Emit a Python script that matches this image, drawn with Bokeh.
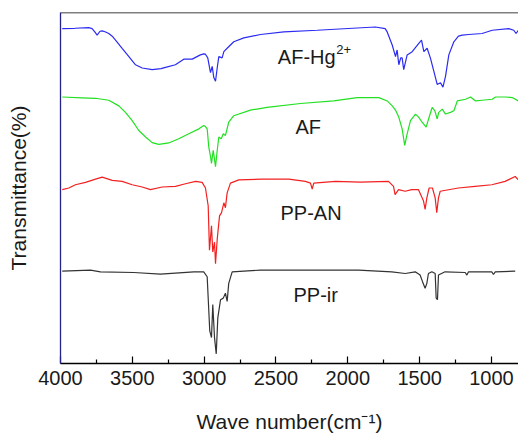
from bokeh.plotting import figure
from bokeh.models import Range1d, FixedTicker, ColumnDataSource, Span
from bokeh.core.properties import value
from bokeh.embed import file_html
from bokeh.resources import INLINE

# ---- data (wavenumber in cm-1, offset transmittance in a.u.) ----
af_hg_w = [3988, 3900, 3803, 3780, 3760, 3745, 3725, 3710, 3690, 3664, 3640, 3617, 3571, 3524, 3478,
           3431, 3362, 3300, 3269, 3200, 3142, 3083, 3040, 3026, 3003, 2991, 2975, 2956, 2944, 2933,
           2921, 2909, 2898, 2875, 2863, 2840, 2794, 2724, 2608, 2446, 2213, 1935, 1808, 1740, 1726,
           1691, 1668, 1657, 1645, 1632, 1622, 1611, 1587, 1552, 1506, 1487, 1471, 1448, 1425, 1401,
           1378, 1355, 1338, 1320, 1297, 1262, 1230, 1204, 1158, 1065, 995, 880, 845, 829, 813]
af_hg_t = [339.7, 340, 340.7, 339.7, 336, 333, 337, 337.3, 336.5, 334.7, 332, 328, 319.7, 311.3, 303,
           299.7, 298, 299, 300.3, 303, 308.7, 308.7, 312, 313, 314, 313.7, 310, 295, 301.3, 290,
           286.3, 300, 311.3, 310, 316.3, 319.7, 326.3, 330.3, 333.7, 336.3, 338, 340.3, 341.3, 339.7, 336.3,
           323, 311.3, 318, 303, 310, 310, 298, 313, 316.3, 324.7, 328, 316.3, 319.7, 309.7, 296.3,
           283, 284.7, 280.3, 291.3, 313, 326.3, 332, 333, 333.7, 334.7, 338, 339.7, 338, 334.7, 338]

af_w = [3988, 3850, 3756, 3664, 3594, 3548, 3501, 3455, 3408, 3362, 3316, 3246, 3177, 3107, 3037,
        3003, 2991, 2979, 2968, 2956, 2949, 2937, 2921, 2909, 2898, 2881, 2867, 2852, 2829, 2794,
        2678, 2562, 2330, 2098, 1935, 1784, 1726, 1691, 1668, 1645, 1622, 1604, 1587, 1564, 1529,
        1506, 1483, 1455, 1431, 1413, 1394, 1378, 1367, 1343, 1320, 1285, 1262, 1238, 1181, 1146,
        1111, 1065, 995, 972, 902, 856, 813]
af_t = [270.3, 269.5, 269, 267, 261.3, 254.7, 246.3, 236.3, 229.7, 224, 222.3, 223.7, 228, 233, 238,
        241.3, 240.3, 238, 219.7, 210, 203, 216.3, 199.7, 216.3, 229.7, 228, 233, 231.3, 244.7, 251.3,
        257, 259.7, 263.7, 266.3, 269.7, 269.7, 266.3, 261.3, 257, 249.7, 238, 221.3, 233, 246.3, 253,
        249.7, 244.7, 239.7, 251.3, 259.7, 256.3, 248, 254.7, 258, 253, 254.7, 256.3, 266.3, 268, 270.3,
        266.3, 267, 268, 270.3, 270.3, 269.7, 266.3]

ppan_w = [3988, 3942, 3896, 3826, 3756, 3710, 3640, 3571, 3501, 3431, 3374, 3292, 3200, 3130, 3060,
          3014, 2991, 2972, 2963, 2949, 2940, 2928, 2921, 2909, 2893, 2879, 2863, 2852, 2840, 2817,
          2759, 2597, 2411, 2295, 2260, 2248, 2237, 2086, 1912, 1717, 1682, 1671, 1647, 1601, 1555,
          1508, 1473, 1462, 1450, 1434, 1411, 1392, 1381, 1369, 1357, 1230, 1114, 998, 905, 835, 813]
ppan_t = [176.3, 178, 181.3, 183.7, 187, 189, 185.7, 184.7, 181.3, 179, 176.3, 179, 179.7, 182.3, 184.7,
          183.7, 178, 160, 115, 139.7, 113, 123, 101.3, 126.3, 149.7, 153, 163, 158, 173, 183,
          186.3, 187, 187, 184.7, 183, 177, 183, 184.7, 184, 184.7, 179.7, 171.3, 176.3, 174.7, 176.3,
          176.3, 164.7, 156.3, 168, 178, 178, 168, 153, 168, 174.7, 178, 179.7, 181.3, 184.7, 189.7, 186.3]

ppir_w = [3988, 3791, 3722, 3490, 3304, 3072, 3003, 2979, 2961, 2949, 2940, 2928, 2916, 2905, 2886,
          2867, 2852, 2840, 2829, 2805, 2724, 2608, 2390, 1926, 1694, 1601, 1531, 1497, 1480, 1462,
          1450, 1439, 1415, 1392, 1385, 1376, 1369, 1323, 1183, 1171, 1160, 998, 986, 974, 835]
ppir_t = [93.7, 94.7, 93, 92.3, 90.7, 93, 93, 88, 33, 26.3, 59.7, 26.3, 9.7, 46.3, 64.7,
          66.3, 71.3, 63, 81.3, 93, 93.7, 94.7, 94.7, 94.7, 93, 91.3, 93, 89.7, 83, 76.3,
          81.3, 91.3, 93, 91.3, 66.3, 64.7, 89.7, 93, 92.3, 89.7, 93, 93, 90.3, 93, 93.7]

series_names = ["AF-Hg", "AF", "PP-AN", "PP-ir"]
label_w = [2487, 2364, 2469, 2378]
label_t = [311, 240, 153, 69]
sup_text = ["2+"]
sup_w = [2080]
sup_t = [318]

x_ticks = [4000, 3500, 3000, 2500, 2000, 1500, 1000]
x_minor = [3750, 3250, 2750, 2250, 1750, 1250]
x_start, x_end = 4000, 812
y_start, y_end = 0, 356

FONT = "Liberation Sans"

p = figure(width=518, height=435, output_backend="svg", toolbar_location=None,
           x_range=Range1d(x_start, x_end), y_range=Range1d(y_start, y_end),
           min_border_left=60, min_border_right=0, min_border_top=12, min_border_bottom=67,
           x_axis_label="Wave number(cm\u207b\u00b9)", y_axis_label="Transmittance(%)")
p.outline_line_color = None
p.xgrid.visible = False
p.ygrid.visible = False
p.background_fill_color = "white"
p.border_fill_color = "white"

# top frame border (the reference frame is cropped on the right)
p.add_layout(Span(location=y_end, dimension="width", line_color="black", line_width=1.5))

xa = p.xaxis[0]
xa.ticker = FixedTicker(ticks=x_ticks, minor_ticks=x_minor)
xa.major_tick_in = 7
xa.major_tick_out = 0
xa.minor_tick_in = 4
xa.minor_tick_out = 0
xa.axis_line_width = 1.3
xa.major_tick_line_width = 1.2
xa.minor_tick_line_width = 1.2
xa.major_label_text_font = FONT
xa.major_label_text_font_size = "20px"
xa.major_label_text_color = "#1a1a1a"
xa.major_label_standoff = 7
xa.axis_label_text_font = FONT
xa.axis_label_text_font_size = "21px"
xa.axis_label_text_font_style = "normal"
xa.axis_label_text_color = "#1a1a1a"
xa.axis_label_standoff = 22

ya = p.yaxis[0]
ya.ticker = FixedTicker(ticks=[])
ya.axis_line_color = "#22228a"
ya.axis_line_width = 1.3
ya.major_tick_line_color = None
ya.minor_tick_line_color = None
ya.axis_label_text_font = FONT
ya.axis_label_text_font_size = "21px"
ya.axis_label_text_font_style = "normal"
ya.axis_label_text_color = "#1a1a1a"
ya.axis_label_standoff = 31

p.line(af_hg_w, af_hg_t, line_color="#2b2bf2", line_width=1.2)
p.line(af_w, af_t, line_color="#22e022", line_width=1.2)
p.line(ppan_w, ppan_t, line_color="#f22020", line_width=1.2)
p.line(ppir_w, ppir_t, line_color="#333333", line_width=1.2)

src = ColumnDataSource(dict(x=label_w, y=label_t, t=series_names))
p.text(x="x", y="y", text="t", source=src, text_font=value(FONT), text_font_size="20px",
       text_color="#1a1a1a", text_align="left", text_baseline="alphabetic")
ssrc = ColumnDataSource(dict(x=sup_w, y=sup_t, t=sup_text))
p.text(x="x", y="y", text="t", source=ssrc, text_font=value(FONT), text_font_size="13px",
       text_color="#1a1a1a", text_align="left", text_baseline="alphabetic")

open("out.html", "w").write(file_html(p, INLINE))
